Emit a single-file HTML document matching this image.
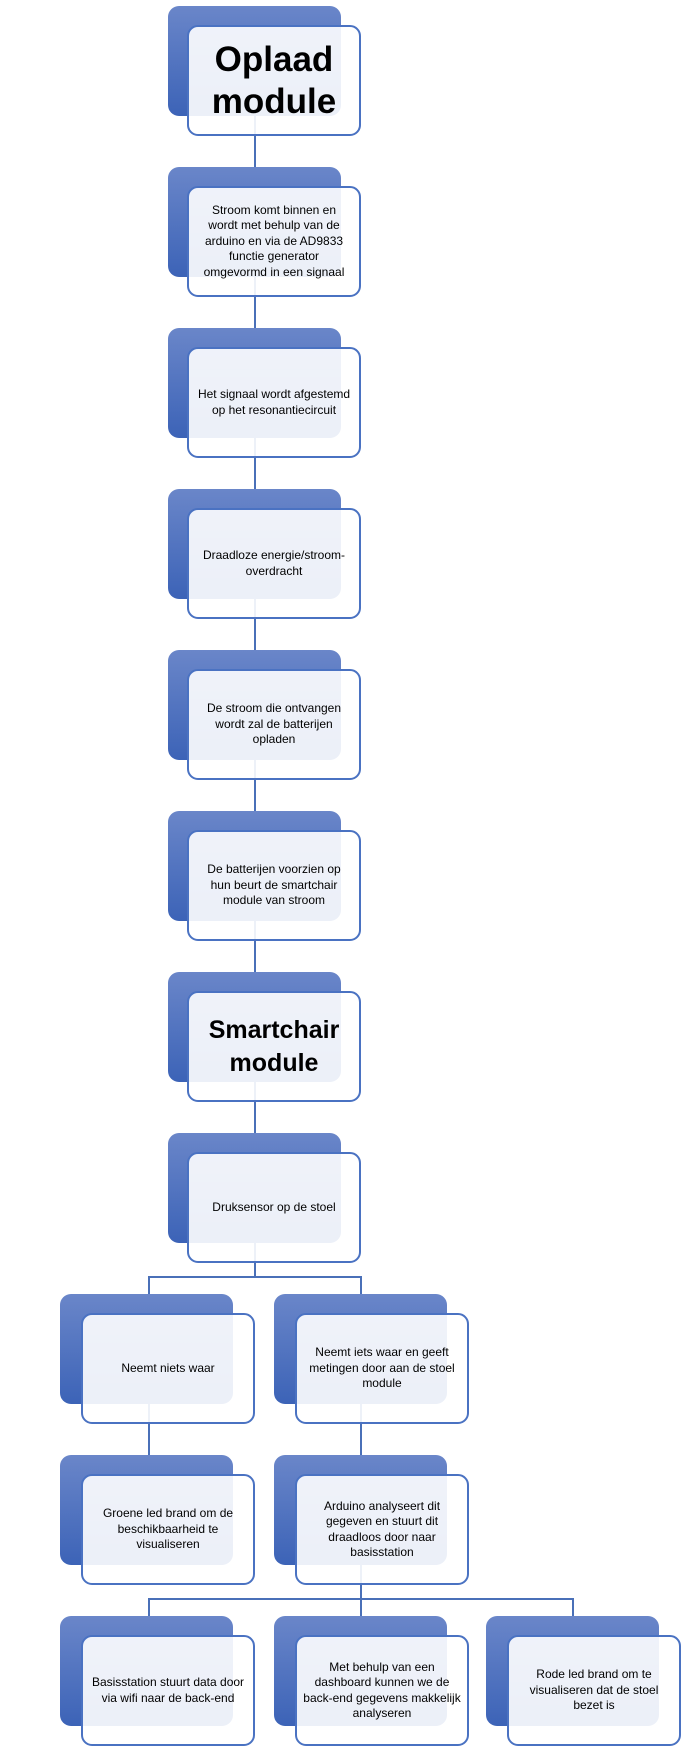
<!DOCTYPE html>
<html><head><meta charset="utf-8"><style>
html,body{margin:0;padding:0;background:#fff}
body{width:698px;height:1758px;position:relative;overflow:hidden;font-family:"Liberation Sans",sans-serif}
.b{position:absolute;width:173px;height:110px;border-radius:11px;background:linear-gradient(#6a86c9,#3c63b7)}
.f{position:absolute;width:170px;height:107px;border:2px solid #4a72c2;border-radius:11px;background:rgba(255,255,255,0.9);display:flex;align-items:center;justify-content:center;text-align:center;font-size:12px;line-height:15.5px;color:#000;box-sizing:content-box}
.t1{font-weight:bold;font-size:35px;line-height:42px}
.t2{font-weight:bold;font-size:25px;line-height:33px}
svg{position:absolute;left:0;top:0}
</style></head><body>
<svg width="698" height="1758"><g stroke="#4a70b8" stroke-width="2" fill="none">
<line x1="255" y1="110" x2="255" y2="1140"/>
<polyline points="255,1240 255,1277"/>
<polyline points="149,1294 149,1277 361,1277 361,1294"/>
<line x1="149" y1="1400" x2="149" y2="1456"/>
<line x1="361" y1="1400" x2="361" y2="1456"/>
<line x1="361" y1="1560" x2="361" y2="1616"/>
<polyline points="149,1616 149,1599 573,1599 573,1616"/>
</g></svg>

<div class="b" style="left:168px;top:6px"></div><div class="f" style="left:187px;top:25px"><div class="t1">Oplaad<br>module</div></div>
<div class="b" style="left:168px;top:167px"></div><div class="f" style="left:187px;top:186px"><div>Stroom komt binnen en<br>wordt met behulp van de<br>arduino en via de AD9833<br>functie generator<br>omgevormd in een signaal</div></div>
<div class="b" style="left:168px;top:328px"></div><div class="f" style="left:187px;top:347px"><div>Het signaal wordt afgestemd<br>op het resonantiecircuit</div></div>
<div class="b" style="left:168px;top:489px"></div><div class="f" style="left:187px;top:508px"><div>Draadloze energie/stroom-<br>overdracht</div></div>
<div class="b" style="left:168px;top:650px"></div><div class="f" style="left:187px;top:669px"><div>De stroom die ontvangen<br>wordt zal de batterijen<br>opladen</div></div>
<div class="b" style="left:168px;top:811px"></div><div class="f" style="left:187px;top:830px"><div>De batterijen voorzien op<br>hun beurt de smartchair<br>module van stroom</div></div>
<div class="b" style="left:168px;top:972px"></div><div class="f" style="left:187px;top:991px"><div class="t2">Smartchair<br>module</div></div>
<div class="b" style="left:168px;top:1133px"></div><div class="f" style="left:187px;top:1152px"><div>Druksensor op de stoel</div></div>

<div class="b" style="left:60px;top:1294px"></div><div class="f" style="left:81px;top:1313px"><div>Neemt niets waar</div></div>
<div class="b" style="left:274px;top:1294px"></div><div class="f" style="left:295px;top:1313px"><div>Neemt iets waar en geeft<br>metingen door aan de stoel<br>module</div></div>
<div class="b" style="left:60px;top:1455px"></div><div class="f" style="left:81px;top:1474px"><div>Groene led brand om de<br>beschikbaarheid te<br>visualiseren</div></div>
<div class="b" style="left:274px;top:1455px"></div><div class="f" style="left:295px;top:1474px"><div>Arduino analyseert dit<br>gegeven en stuurt dit<br>draadloos door naar<br>basisstation</div></div>
<div class="b" style="left:60px;top:1616px"></div><div class="f" style="left:81px;top:1635px"><div>Basisstation stuurt data door<br>via wifi naar de back-end</div></div>
<div class="b" style="left:274px;top:1616px"></div><div class="f" style="left:295px;top:1635px"><div>Met behulp van een<br>dashboard kunnen we de<br>back-end gegevens makkelijk<br>analyseren</div></div>
<div class="b" style="left:486px;top:1616px"></div><div class="f" style="left:507px;top:1635px"><div>Rode led brand om te<br>visualiseren dat de stoel<br>bezet is</div></div>
</body></html>
